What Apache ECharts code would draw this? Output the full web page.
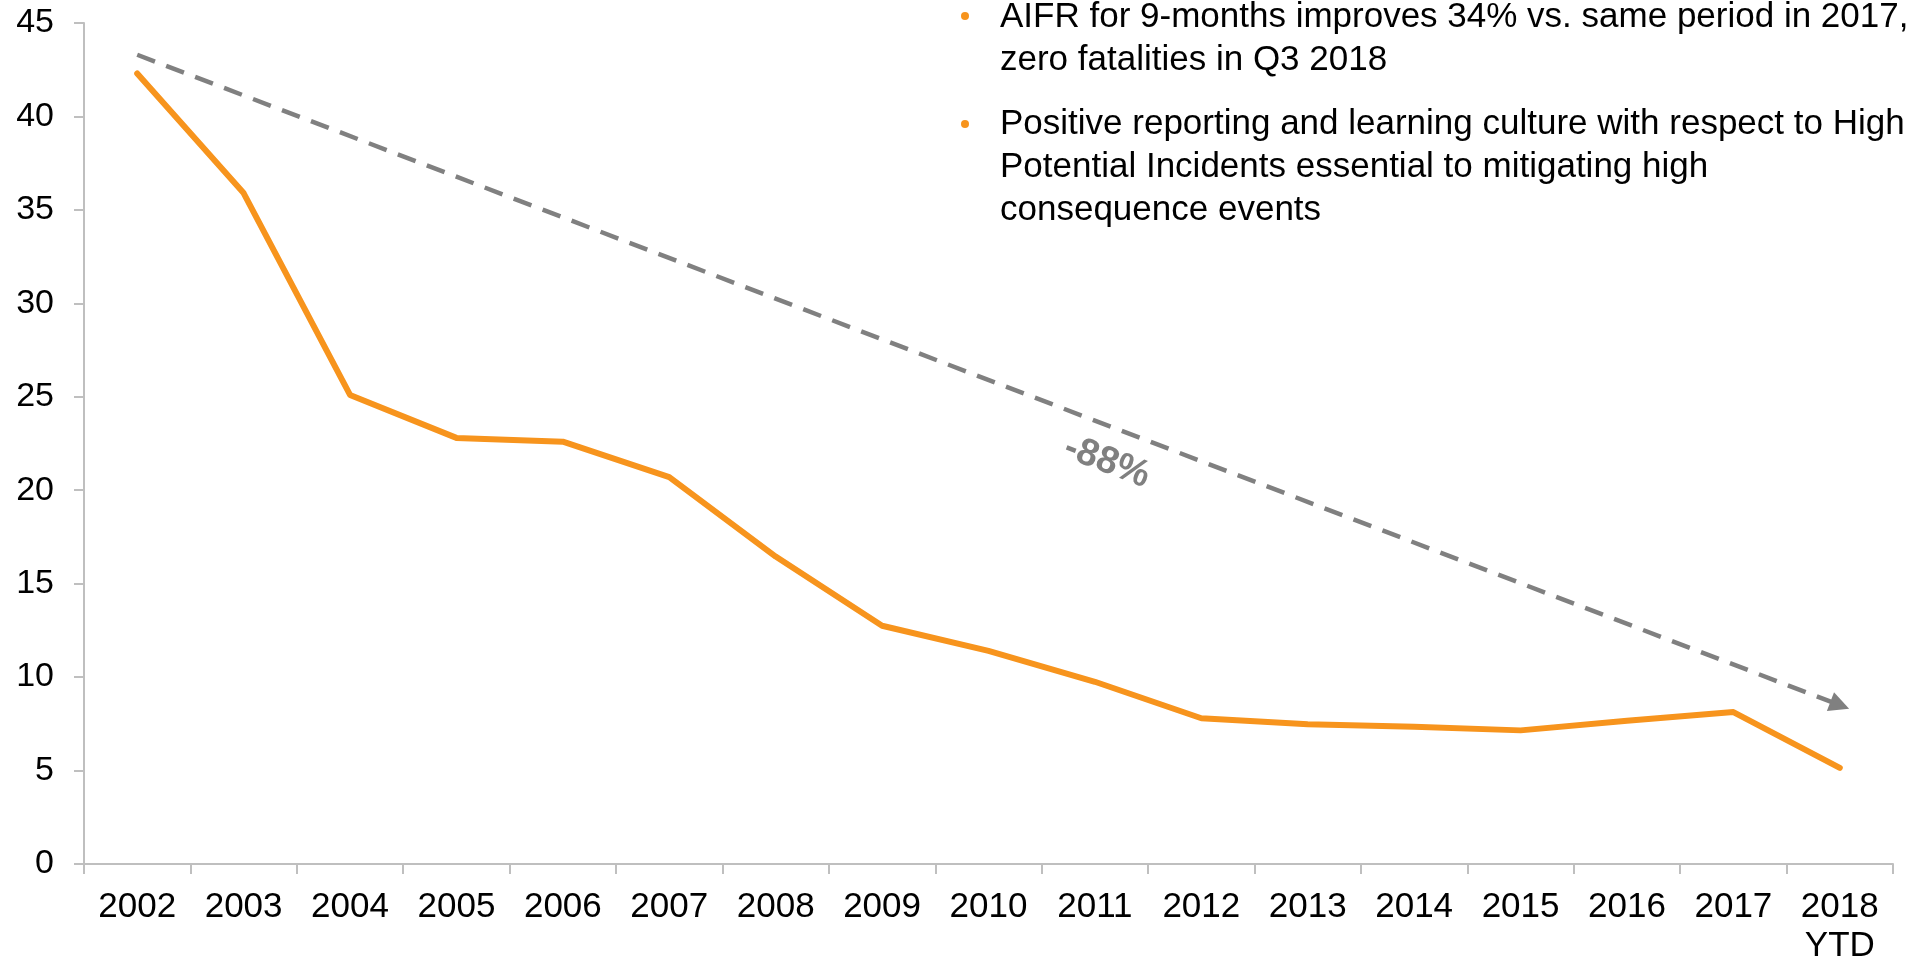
<!DOCTYPE html>
<html>
<head>
<meta charset="utf-8">
<title>AIFR</title>
<script src="https://cdn.jsdelivr.net/npm/echarts@6/dist/echarts.min.js"></script>
<style>
  html, body { margin: 0; padding: 0; background: #fff; }
  #chart { width: 1906px; height: 960px; }
</style>
</head>
<body>
<div id="chart"></div>
<script>
// data
var years = ['2002', '2003', '2004', '2005', '2006', '2007', '2008', '2009', '2010',
             '2011', '2012', '2013', '2014', '2015', '2016', '2017', '2018\nYTD'];
var aifr = [42.3, 35.9, 25.1, 22.8, 22.6, 20.7, 16.45, 12.75, 11.4,
            9.75, 7.8, 7.48, 7.35, 7.15, 7.67, 8.13, 5.14];
var trendStart = [0, 43.3];
var trendEnd = [16, 8.5];
var trendLabel = '-88%';
var bullets = [
    'AIFR for 9-months improves 34% vs. same period in 2017,\nzero fatalities in Q3 2018',
    'Positive reporting and learning culture with respect to High\nPotential Incidents essential to mitigating high\nconsequence events'
];

var font = '"Liberation Sans", Arial, sans-serif';
var orange = '#F7941D';
var grey = '#808080';
var axisGrey = '#BFBFBF';

var myChart = echarts.init(document.getElementById('chart'));

myChart.setOption({
    animation: false,
    textStyle: { fontFamily: font },
    grid: { left: 84, right: 13, top: 23, bottom: 96, containLabel: false, outerBoundsMode: 'none' },
    xAxis: {
        type: 'category',
        data: years,
        boundaryGap: true,
        axisLine: { lineStyle: { color: axisGrey, width: 2 } },
        axisTick: { show: true, length: 10, lineStyle: { color: axisGrey, width: 2 } },
        axisLabel: { color: '#000', fontSize: 35, margin: 24, lineHeight: 39, interval: 0 }
    },
    yAxis: {
        type: 'value',
        min: 0,
        max: 45,
        interval: 5,
        splitLine: { show: false },
        axisLine: { show: true, lineStyle: { color: axisGrey, width: 2 } },
        axisTick: { show: true, length: 10, lineStyle: { color: axisGrey, width: 2 } },
        axisLabel: { color: '#000', fontSize: 34, margin: 30 }
    },
    series: [
        {
            name: 'AIFR',
            type: 'line',
            data: aifr,
            symbol: 'none',
            lineStyle: { color: orange, width: 6, join: 'round', cap: 'round' },
            z: 3
        },
        {
            name: 'trend',
            type: 'line',
            data: [],
            markLine: {
                silent: true,
                symbol: ['none', 'triangle'],
                symbolSize: 20,
                label: { show: false },
                lineStyle: { color: grey, width: 4.5, type: [19, 12] },
                data: [[{ coord: trendStart }, { coord: trendEnd }]]
            },
            z: 2
        }
    ],
    graphic: [
        {
            type: 'text',
            x: 1107,
            y: 462,
            rotation: -21 * Math.PI / 180,
            style: {
                text: trendLabel,
                font: 'bold 38px ' + font,
                fill: grey,
                align: 'center',
                verticalAlign: 'middle'
            }
        },
        { type: 'circle', shape: { cx: 965, cy: 16, r: 4 }, style: { fill: orange } },
        {
            type: 'text', x: 1000, y: -4,
            style: { text: bullets[0], font: '35px ' + font, fill: '#000', lineHeight: 43 }
        },
        { type: 'circle', shape: { cx: 965, cy: 124, r: 4 }, style: { fill: orange } },
        {
            type: 'text', x: 1000, y: 103,
            style: { text: bullets[1], font: '35px ' + font, fill: '#000', lineHeight: 43 }
        }
    ]
});
</script>
</body>
</html>
